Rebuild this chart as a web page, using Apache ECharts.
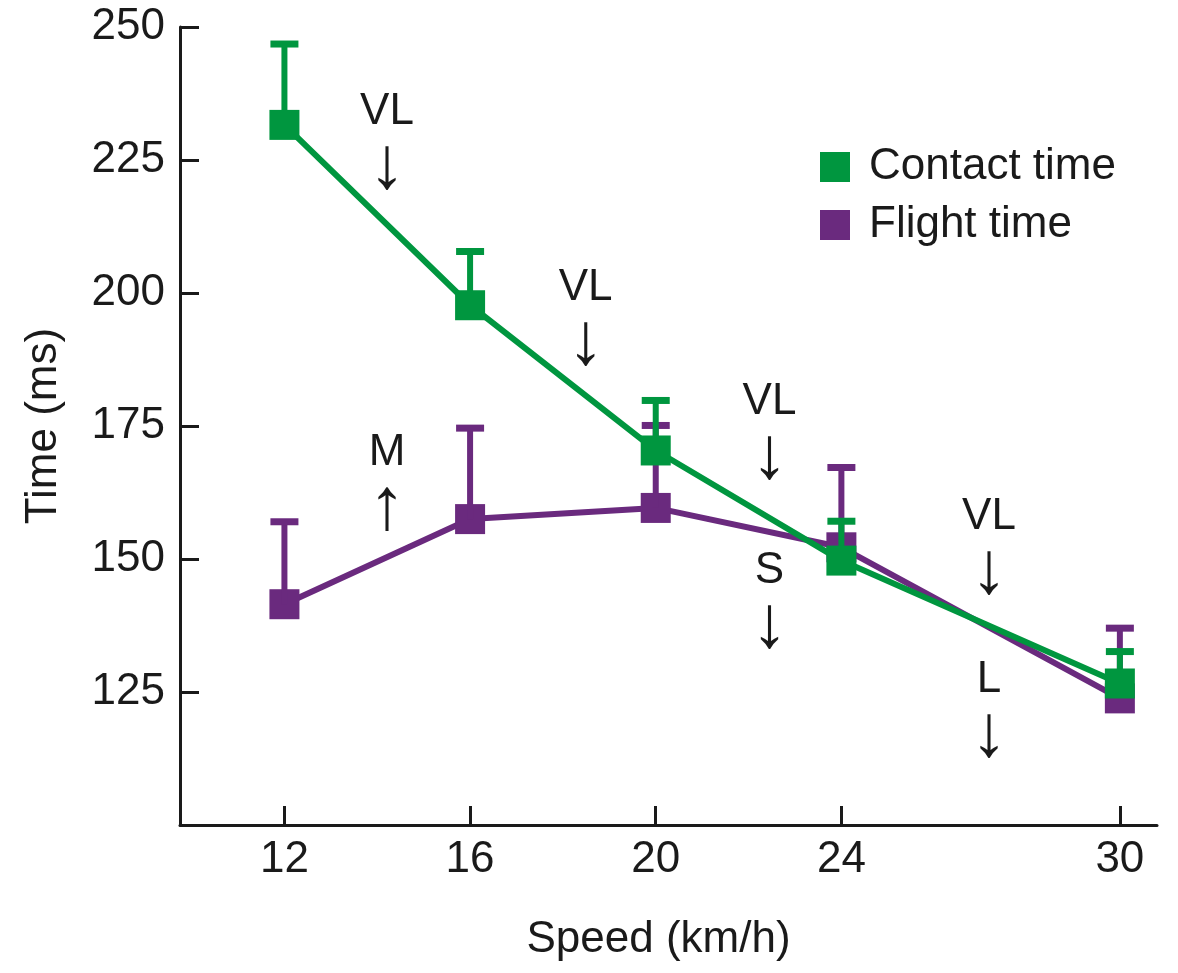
<!DOCTYPE html>
<html>
<head>
<meta charset="utf-8">
<script src="https://cdn.jsdelivr.net/npm/echarts@6/dist/echarts.min.js"></script>
<style>
  html, body { margin: 0; padding: 0; background: #fff; }
  #chart { width: 1178px; height: 973px; }
</style>
</head>
<body>
<div id="chart"></div>
<script>
// speeds (km/h)
const speeds = [12, 16, 20, 24, 30];
const xTicks = [12, 16, 20, 24, 30];
const yTicks = [125, 150, 175, 200, 225, 250];

// mean and upper error (mean + SD), ms
const contactMean = [231.6, 197.7, 170.4, 149.7, 126.6];
const contactUpper = [246.8, 207.8, 179.8, 157.1, 132.6];
const flightMean = [141.5, 157.5, 159.6, 152.2, 123.8];
const flightUpper = [157.0, 174.6, 175.1, 167.2, 137.0];

// text annotations: [x, y, label, arrow]
const notes = [
    [14.21, 228.4, "VL", "↓"],
    [18.49, 195.3, "VL", "↓"],
    [22.45, 173.9, "VL", "↓"],
    [27.18, 152.3, "VL", "↓"],
    [14.21, 164.3, "M", "↑"],
    [22.45, 142.1, "S", "↓"],
    [27.18, 121.6, "L", "↓"]
];

const GREEN = "#00963f";
const PURPLE = "#6a2a7e";
const INK = "#1a1a1a";
const FONT = "Liberation Sans, Arial, sans-serif";
const FS = 44;

function pairs(xs, ys) {
    return xs.map((x, i) => [x, ys[i]]);
}
function errData(xs, m, u) {
    return xs.map((x, i) => [x, m[i], u[i]]);
}

function errorBar(color) {
    return function (params, api) {
        const base = api.coord([api.value(0), api.value(1)]);
        const top = api.coord([api.value(0), api.value(2)]);
        return {
            type: "group",
            children: [
                {
                    type: "line",
                    shape: { x1: base[0], y1: base[1], x2: top[0], y2: top[1] },
                    style: { stroke: color, lineWidth: 6 }
                },
                {
                    type: "line",
                    shape: { x1: top[0] - 14, y1: top[1], x2: top[0] + 14, y2: top[1] },
                    style: { stroke: color, lineWidth: 7 }
                }
            ]
        };
    };
}

const chart = echarts.init(document.getElementById("chart"));

chart.setOption({
    animation: false,
    backgroundColor: "#fff",
    textStyle: { fontFamily: FONT, color: INK },
    grid: { left: 180, right: 21, top: 27, bottom: 148 },
    legend: {
        orient: "vertical",
        left: 815,
        top: 140,
        icon: "rect",
        itemWidth: 30,
        itemHeight: 30,
        itemGap: 14,
        data: ["Contact time", "Flight time"],
        textStyle: {
            fontFamily: FONT,
            fontSize: FS,
            color: INK,
            padding: [0, 0, 0, 14]
        }
    },
    xAxis: {
        type: "value",
        min: 9.75,
        max: 30.8,
        name: "Speed (km/h)",
        nameLocation: "middle",
        nameGap: 93,
        nameTextStyle: { fontFamily: FONT, fontSize: FS, color: INK, padding: [0, 20, 0, 0] },
        splitLine: { show: false },
        axisLine: { show: true, onZero: false, lineStyle: { color: INK, width: 3 } },
        axisTick: {
            show: true,
            inside: true,
            length: 19,
            customValues: xTicks,
            lineStyle: { color: INK, width: 3 }
        },
        axisLabel: {
            customValues: xTicks,
            margin: 13,
            fontFamily: FONT,
            fontSize: FS,
            color: INK
        }
    },
    yAxis: {
        type: "value",
        min: 100,
        max: 250,
        name: "Time (ms)",
        nameLocation: "middle",
        nameGap: 114,
        nameTextStyle: { fontFamily: FONT, fontSize: FS, color: INK },
        splitLine: { show: false },
        axisLine: { show: true, onZero: false, lineStyle: { color: INK, width: 3 } },
        axisTick: {
            show: true,
            inside: true,
            length: 19,
            customValues: yTicks,
            lineStyle: { color: INK, width: 3 }
        },
        axisLabel: {
            customValues: yTicks,
            margin: 15,
            fontFamily: FONT,
            fontSize: FS,
            color: INK
        }
    },
    series: [
        {
            name: "Flight time",
            type: "line",
            data: pairs(speeds, flightMean),
            symbol: "rect",
            symbolSize: 30,
            itemStyle: { color: PURPLE },
            lineStyle: { color: PURPLE, width: 6 },
            z: 2
        },
        {
            name: "Flight error",
            type: "custom",
            renderItem: errorBar(PURPLE),
            data: errData(speeds, flightMean, flightUpper),
            encode: { x: 0, y: [1, 2] },
            z: 3
        },
        {
            name: "Contact error",
            type: "custom",
            renderItem: errorBar(GREEN),
            data: errData(speeds, contactMean, contactUpper),
            encode: { x: 0, y: [1, 2] },
            z: 4
        },
        {
            name: "Contact time",
            type: "line",
            data: pairs(speeds, contactMean),
            symbol: "rect",
            symbolSize: 30,
            itemStyle: { color: GREEN },
            lineStyle: { color: GREEN, width: 6 },
            z: 5
        },
        {
            name: "notes",
            type: "scatter",
            symbolSize: 0,
            silent: true,
            itemStyle: { opacity: 1 },
            data: notes.map(n => ({ value: [n[0], n[1]], tag: n[2], arrow: n[3] })),
            label: {
                show: true,
                position: "inside",
                color: INK,
                formatter: p => "{t|" + p.data.tag + "}\n{a|" + p.data.arrow + "}",
                rich: {
                    t: { fontFamily: FONT, fontSize: FS, color: INK, lineHeight: 52, align: "center" },
                    a: { fontFamily: FONT, fontSize: 74, color: INK, lineHeight: 60, align: "center" }
                }
            },
            z: 6
        }
    ]
});

window.addEventListener("resize", function () {
    chart.resize();
});
</script>
</body>
</html>
